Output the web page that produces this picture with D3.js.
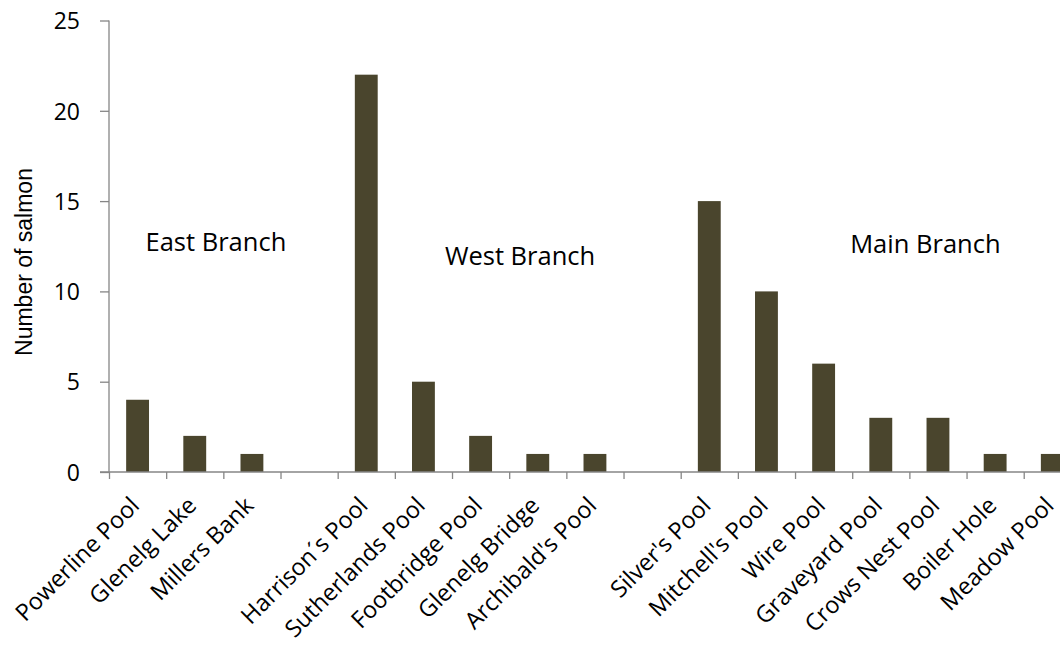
<!DOCTYPE html>
<html>
<head>
<meta charset="utf-8">
<script src="https://cdn.jsdelivr.net/npm/d3@7"></script>
<style>
  html, body { margin: 0; padding: 0; background: #fff; }
  svg { display: block; font-family: "Open Sans", sans-serif; }
</style>
</head>
<body>
<svg id="chart" width="1060" height="645"></svg>
<script>
// Pools along each branch; blank slots separate the branches
const categories = [
  "Powerline Pool", "Glenelg Lake", "Millers Bank", "",
  "Harrison\u00b4s Pool", "Sutherlands Pool", "Footbridge Pool", "Glenelg Bridge", "Archibald's Pool", "",
  "Silver's Pool", "Mitchell's Pool", "Wire Pool", "Graveyard Pool", "Crows Nest Pool", "Boiler Hole", "Meadow Pool"
];
const salmon = [4, 2, 1, null, 22, 5, 2, 1, 1, null, 15, 10, 6, 3, 3, 1, 1];
const yTicks = [0, 5, 10, 15, 20, 25];
const branchLabels = ["East Branch", "West Branch", "Main Branch"];
const branchAt = [1.37, 6.69, 13.78];     // position along the category axis
const branchValue = [12.24, 11.46, 12.13]; // baseline height on the value axis

const rows = categories.map((c, i) => ({ key: i, name: c, value: salmon[i] }));

const svg = d3.select("#chart");
const plotLeft = 109, plotBottom = 472, plotTop = 20.5;
const slots = categories.length;
const step = 57.17;
const plotRight = plotLeft + slots * step;

const x = d3.scaleBand()
  .domain(d3.range(slots))
  .range([plotLeft, plotRight])
  .paddingInner(0.6).paddingOuter(0.3);
const xb = d3.scaleLinear().domain([0, slots]).range([plotLeft, plotRight]);
const xc = d3.scaleLinear().domain([-0.5, slots - 0.5]).range([plotLeft, plotRight]);
const y = d3.scaleLinear().domain([0, 25]).range([plotBottom, plotTop]);

const axisColor = "#868686";

// bars
svg.append("g").selectAll("rect")
  .data(rows.filter(d => d.value != null))
  .join("rect")
  .attr("x", d => x(d.key))
  .attr("width", x.bandwidth())
  .attr("y", d => y(d.value))
  .attr("height", d => y(0) - y(d.value))
  .attr("fill", "#4a452d");

// y axis
const yAxis = svg.append("g")
  .attr("transform", `translate(${plotLeft},0)`)
  .call(d3.axisLeft(y).tickValues(yTicks).tickSize(9).tickPadding(20));
yAxis.select(".domain").attr("stroke", axisColor).attr("stroke-width", 1.3).attr("d", `M0,${plotTop}V${plotBottom}`);
yAxis.selectAll(".tick line").attr("stroke", axisColor).attr("stroke-width", 1.3);
yAxis.selectAll(".tick text").attr("font-size", 23).attr("fill", "#000")
  .attr("font-family", "'Open Sans', sans-serif").attr("dy", "0.36em");

// x axis with slot boundary ticks
const xAxis = svg.append("g")
  .attr("transform", `translate(0,${plotBottom})`)
  .call(d3.axisBottom(xb).tickValues(d3.range(slots + 1)).tickSize(7).tickFormat(""));
xAxis.select(".domain").attr("stroke", axisColor).attr("stroke-width", 1.3).attr("d", `M${plotLeft - 9},0H${plotRight}`);
xAxis.selectAll(".tick line").attr("stroke", axisColor).attr("stroke-width", 1.3);

// rotated category labels
svg.append("g").selectAll("text")
  .data(rows.filter(d => d.name))
  .join("text")
  .attr("transform", d => `translate(${xc(d.key) + 3},${plotBottom + 35}) rotate(-45)`)
  .attr("text-anchor", "end")
  .attr("font-size", 23.5)
  .attr("fill", "#000")
  .text(d => d.name);

// y axis title
svg.append("text")
  .attr("transform", `translate(32,262) rotate(-90)`)
  .attr("text-anchor", "middle")
  .attr("font-family", "'Liberation Sans', Arial, sans-serif")
  .attr("font-size", 23)
  .attr("fill", "#000")
  .text("Number of salmon");

// branch labels
svg.append("g").selectAll("text")
  .data(branchLabels)
  .join("text")
  .attr("x", (d, i) => xc(branchAt[i]))
  .attr("y", (d, i) => y(branchValue[i]))
  .attr("text-anchor", "middle")
  .attr("font-size", 25.5)
  .attr("fill", "#000")
  .text(d => d);
</script>
</body>
</html>
